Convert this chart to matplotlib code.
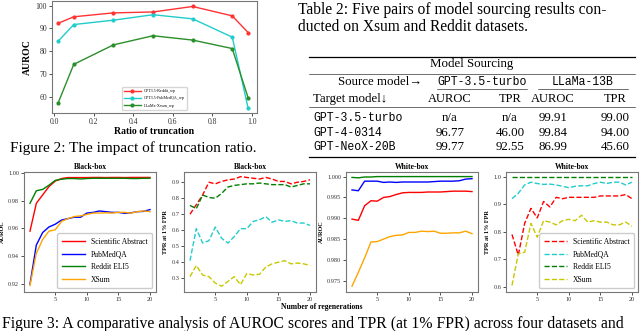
import numpy as np
import matplotlib
matplotlib.use('Agg')
import matplotlib.pyplot as plt

plt.rcParams['font.family'] = ['Liberation Serif', 'DejaVu Serif']

# ---- Figure 2 data (truncation ratio)
ratio = [0.02, 0.1, 0.3, 0.5, 0.7, 0.9, 0.98]
reddit_wp = [92.2, 95.1, 96.8, 97.2, 99.6, 95.5, 88.2]
pubmed_wp = [84.3, 91.7, 93.6, 96.0, 94.2, 86.2, 55.2]
xsum_wp = [57.2, 74.3, 82.8, 86.8, 84.9, 81.2, 59.7]

# ---- Figure 3 data (number of regenerations)
regen = np.arange(1, 21)
datasets = ['Scientific Abstract', 'PubMedQA', 'Reddit ELI5', 'XSum']

bb_auroc_sci = [0.958, 0.978, 0.984, 0.990, 0.994, 0.9958, 0.9965, 0.9965, 0.9965, 0.9965,
                0.9966, 0.9966, 0.9965, 0.9966, 0.9966, 0.9965, 0.9966, 0.9966, 0.9966, 0.9966]
bb_auroc_pub = [0.920, 0.948, 0.957, 0.961, 0.963, 0.966, 0.967, 0.968, 0.968, 0.971,
                0.9715, 0.9725, 0.972, 0.9715, 0.9715, 0.9708, 0.9712, 0.972, 0.9722, 0.9735]
bb_auroc_red = [0.978, 0.987, 0.988, 0.991, 0.9945, 0.9953, 0.9958, 0.9958, 0.9955, 0.9958,
                0.996, 0.996, 0.996, 0.996, 0.996, 0.996, 0.9958, 0.9958, 0.996, 0.996]
bb_auroc_xsum = [0.919, 0.942, 0.952, 0.958, 0.959, 0.965, 0.967, 0.9685, 0.969, 0.970,
                 0.971, 0.971, 0.9712, 0.971, 0.9715, 0.9715, 0.971, 0.972, 0.9725, 0.972]

bb_tpr_sci = [0.70, 0.76, 0.82, 0.90, 0.89, 0.905, 0.915, 0.92, 0.935, 0.93,
              0.925, 0.92, 0.93, 0.92, 0.905, 0.905, 0.89, 0.90, 0.905, 0.915]
bb_tpr_pub = [0.41, 0.61, 0.52, 0.535, 0.62, 0.55, 0.52, 0.56, 0.61, 0.61,
              0.655, 0.665, 0.685, 0.65, 0.665, 0.655, 0.66, 0.645, 0.645, 0.63]
bb_tpr_red = [0.755, 0.735, 0.82, 0.805, 0.80, 0.83, 0.87, 0.88, 0.885, 0.89,
              0.89, 0.895, 0.89, 0.885, 0.885, 0.885, 0.87, 0.88, 0.89, 0.89]
bb_tpr_xsum = [0.31, 0.38, 0.32, 0.31, 0.27, 0.25, 0.28, 0.31, 0.26, 0.33,
               0.32, 0.325, 0.37, 0.39, 0.40, 0.41, 0.39, 0.395, 0.39, 0.38]

wb_auroc_sci = [0.9898, 0.9895, 0.9930, 0.9942, 0.9941, 0.9950, 0.9952, 0.9957, 0.9961, 0.9962,
                0.9962, 0.9962, 0.9963, 0.9963, 0.9963, 0.9964, 0.9965, 0.9965, 0.9965, 0.9964]
wb_auroc_pub = [0.9968, 0.9966, 0.9989, 0.9989, 0.9989, 0.9986, 0.9987, 0.9986, 0.9987, 0.9987,
                0.9987, 0.9987, 0.9987, 0.9988, 0.9989, 0.9989, 0.9989, 0.9990, 0.9994, 0.9995]
wb_auroc_red = [0.9998, 0.9997, 0.9999, 0.9999, 1.0, 1.0, 1.0, 1.0, 1.0, 1.0,
                1.0, 1.0, 1.0, 1.0, 1.0, 1.0, 1.0, 1.0, 1.0, 1.0]
wb_auroc_xsum = [0.9737, 0.9770, 0.9805, 0.9843, 0.9844, 0.9850, 0.9856, 0.9859, 0.9860, 0.9866,
                 0.9866, 0.9869, 0.9868, 0.9869, 0.9864, 0.9864, 0.9865, 0.9865, 0.9869, 0.9863]

wb_tpr_sci = [0.79, 0.715, 0.83, 0.885, 0.85, 0.91, 0.89, 0.925, 0.92, 0.925,
              0.925, 0.925, 0.925, 0.925, 0.93, 0.93, 0.93, 0.93, 0.935, 0.92]
wb_tpr_pub = [0.92, 0.94, 0.97, 0.98, 0.975, 0.972, 0.973, 0.97, 0.965, 0.96,
              0.965, 0.967, 0.967, 0.975, 0.98, 0.975, 0.98, 0.98, 0.97, 0.98]
wb_tpr_red = [1.0] * 20
wb_tpr_xsum = [0.605, 0.72, 0.725, 0.83, 0.78, 0.84, 0.835, 0.825, 0.84, 0.845,
               0.84, 0.86, 0.835, 0.84, 0.835, 0.835, 0.825, 0.825, 0.835, 0.82]

# ---- Table 2 data
col_models = ['GPT-3.5-turbo', 'LLaMa-13B']
target_models = ['GPT-3.5-turbo', 'GPT-4-0314', 'GPT-NeoX-20B']
table_vals = [['n/a', 'n/a', '99.91', '99.00'],
              ['96.77', '46.00', '99.84', '94.00'],
              ['99.77', '92.55', '86.99', '45.60']]

W, H = 640, 331
fig = plt.figure(figsize=(6.4, 3.31), dpi=100)


def px_axes(l, t, r, b):
    return fig.add_axes([l / W, 1 - b / H, (r - l) / W, (b - t) / H])


def style(ax, fs):
    for s in ax.spines.values():
        s.set_color('#777777')
        s.set_linewidth(0.8)
    ax.tick_params(labelsize=fs, length=2, width=0.6, pad=1.5, colors='#333333')


# background text layer in pixel coordinates
bg = fig.add_axes([0, 0, 1, 1])
bg.set_xlim(0, W)
bg.set_ylim(H, 0)
bg.axis('off')

# ---- Figure 2 plot
ax = px_axes(52, 1, 257, 113)
ax.plot(ratio, reddit_wp, '-o', color='#ff3333', lw=1.0, ms=2, label='GPT3.5-Reddit_wp')
ax.plot(ratio, pubmed_wp, '-o', color='#22cccc', lw=1.0, ms=2, label='GPT3.5-PubMedQA_wp')
ax.plot(ratio, xsum_wp, '-o', color='#2a8f2a', lw=1.0, ms=2, label='LLaMa-Xsum_wp')
ax.set_xlim(-0.01, 1.025)
ax.set_ylim(53, 102)
ax.set_yticks([60, 70, 80, 90, 100])
ax.set_xticks([0.0, 0.2, 0.4, 0.6, 0.8, 1.0])
style(ax, 5.5)
ax.set_ylabel('AUROC', fontsize=7, fontweight='bold', labelpad=3)
ax.set_xlabel('Ratio of truncation', fontsize=7, fontweight='bold', labelpad=0.5)
ax.legend(loc='lower center', bbox_to_anchor=(0.5, 0.01), fontsize=3,
          handlelength=4, frameon=True, borderpad=0.5, labelspacing=0.8)

bg.text(10, 148, 'Figure 2: The impact of truncation ratio.', fontsize=11,
        va='center', ha='left')

# ---- Table 2
bg.text(298, 10, 'Table 2: Five pairs of model sourcing results con-', fontsize=11.2,
        va='center', ha='left')
bg.text(298, 27, 'ducted on Xsum and Reddit datasets.', fontsize=11.2,
        va='center', ha='left')
bg.plot([309, 635], [56.5, 56.5], color='black', lw=0.9)
bg.text(472, 64, 'Model Sourcing', fontsize=9.3, ha='center', va='center')
bg.plot([309, 635], [74, 74], color='black', lw=0.4)
bg.text(422, 82, 'Source model→', fontsize=9.3, ha='right', va='center')
col_x = [450, 510, 553, 615]
grp_x = [482, 583]
grp_span = [(437, 527), (538, 628)]
for name, gx, (a, b) in zip(col_models, grp_x, grp_span):
    bg.text(gx, 82, name, fontsize=8.3, ha='center', va='center', family='Liberation Mono')
    bg.plot([a, b], [88.5, 88.5], color='black', lw=0.4)
bg.text(313, 99, 'Target model↓', fontsize=9.3, ha='left', va='center')
for cx, lab in zip(col_x, ['AUROC', 'TPR', 'AUROC', 'TPR']):
    bg.text(cx, 99, lab, fontsize=9, ha='center', va='center')
bg.plot([309, 635], [107, 107], color='black', lw=0.4)
for i, (tm, row) in enumerate(zip(target_models, table_vals)):
    y = 118 + i * 14.5
    bg.text(313, y, tm, fontsize=8.3, ha='left', va='center', family='Liberation Mono')
    for cx, v in zip(col_x, row):
        bg.text(cx, y, v, fontsize=9.3, ha='center', va='center')
bg.plot([309, 635], [157, 157], color='black', lw=0.9)

# ---- Figure 3 panels
auroc_cols = ['red', 'blue', 'green', 'orange']
tpr_cols = ['red', '#22cccc', 'green', '#c8c800']

panels = [
    ((24, 172, 156, 292), 'Black-box', 'AUROC', [bb_auroc_sci, bb_auroc_pub, bb_auroc_red, bb_auroc_xsum],
     '-', auroc_cols, (0.9143, 1.0005), [0.92, 0.94, 0.96, 0.98, 1.00], '%.2f', True),
    ((184, 172, 316, 292), 'Black-box', 'TPR at 1% FPR', [bb_tpr_sci, bb_tpr_pub, bb_tpr_red, bb_tpr_xsum],
     '--', tpr_cols, (0.214, 0.964), [0.3, 0.4, 0.5, 0.6, 0.7, 0.8, 0.9], '%.1f', False),
    ((346, 172, 478, 292), 'White-box', 'AUROC', [wb_auroc_sci, wb_auroc_pub, wb_auroc_red, wb_auroc_xsum],
     '-', auroc_cols, (0.9723, 1.0011), [0.975, 0.980, 0.985, 0.990, 0.995, 1.000], '%.3f', False),
    ((506, 172, 638, 292), 'White-box', 'TPR at 1% FPR', [wb_tpr_sci, wb_tpr_pub, wb_tpr_red, wb_tpr_xsum],
     '--', tpr_cols, (0.581, 1.017), [0.6, 0.7, 0.8, 0.9, 1.0], '%.1f', True),
]

for box, title, ylab, series, ls, cols, ylim, yt, fmt, leg in panels:
    ax = px_axes(*box)
    for vals, c, lab in zip(series, cols, datasets):
        ax.plot(regen, vals, ls, color=c, lw=1.0, label=lab)
    ax.set_xlim(0.05, 20.95)
    ax.set_ylim(*ylim)
    ax.set_xticks([5, 10, 15, 20])
    ax.set_yticks(yt)
    ax.set_yticklabels([fmt % v for v in yt])
    style(ax, 4.5)
    ax.set_title(title, fontsize=5.5, fontweight='bold', pad=2)
    ax.set_ylabel(ylab, fontsize=4.5, fontweight='bold', labelpad=2)
    if leg:
        ax.legend(loc='lower right', fontsize=5.5, handlelength=3, borderpad=0.6,
                  labelspacing=0.6, framealpha=1)

bg.text(322, 307, 'Number of regenerations', fontsize=5.5, fontweight='bold',
        ha='center', va='center')
bg.text(2, 327.5, 'Figure 3: A comparative analysis of AUROC scores and TPR (at 1% FPR) across four datasets and',
        fontsize=11.3, ha='left', va='baseline')

fig.savefig('out.png', dpi=100)
